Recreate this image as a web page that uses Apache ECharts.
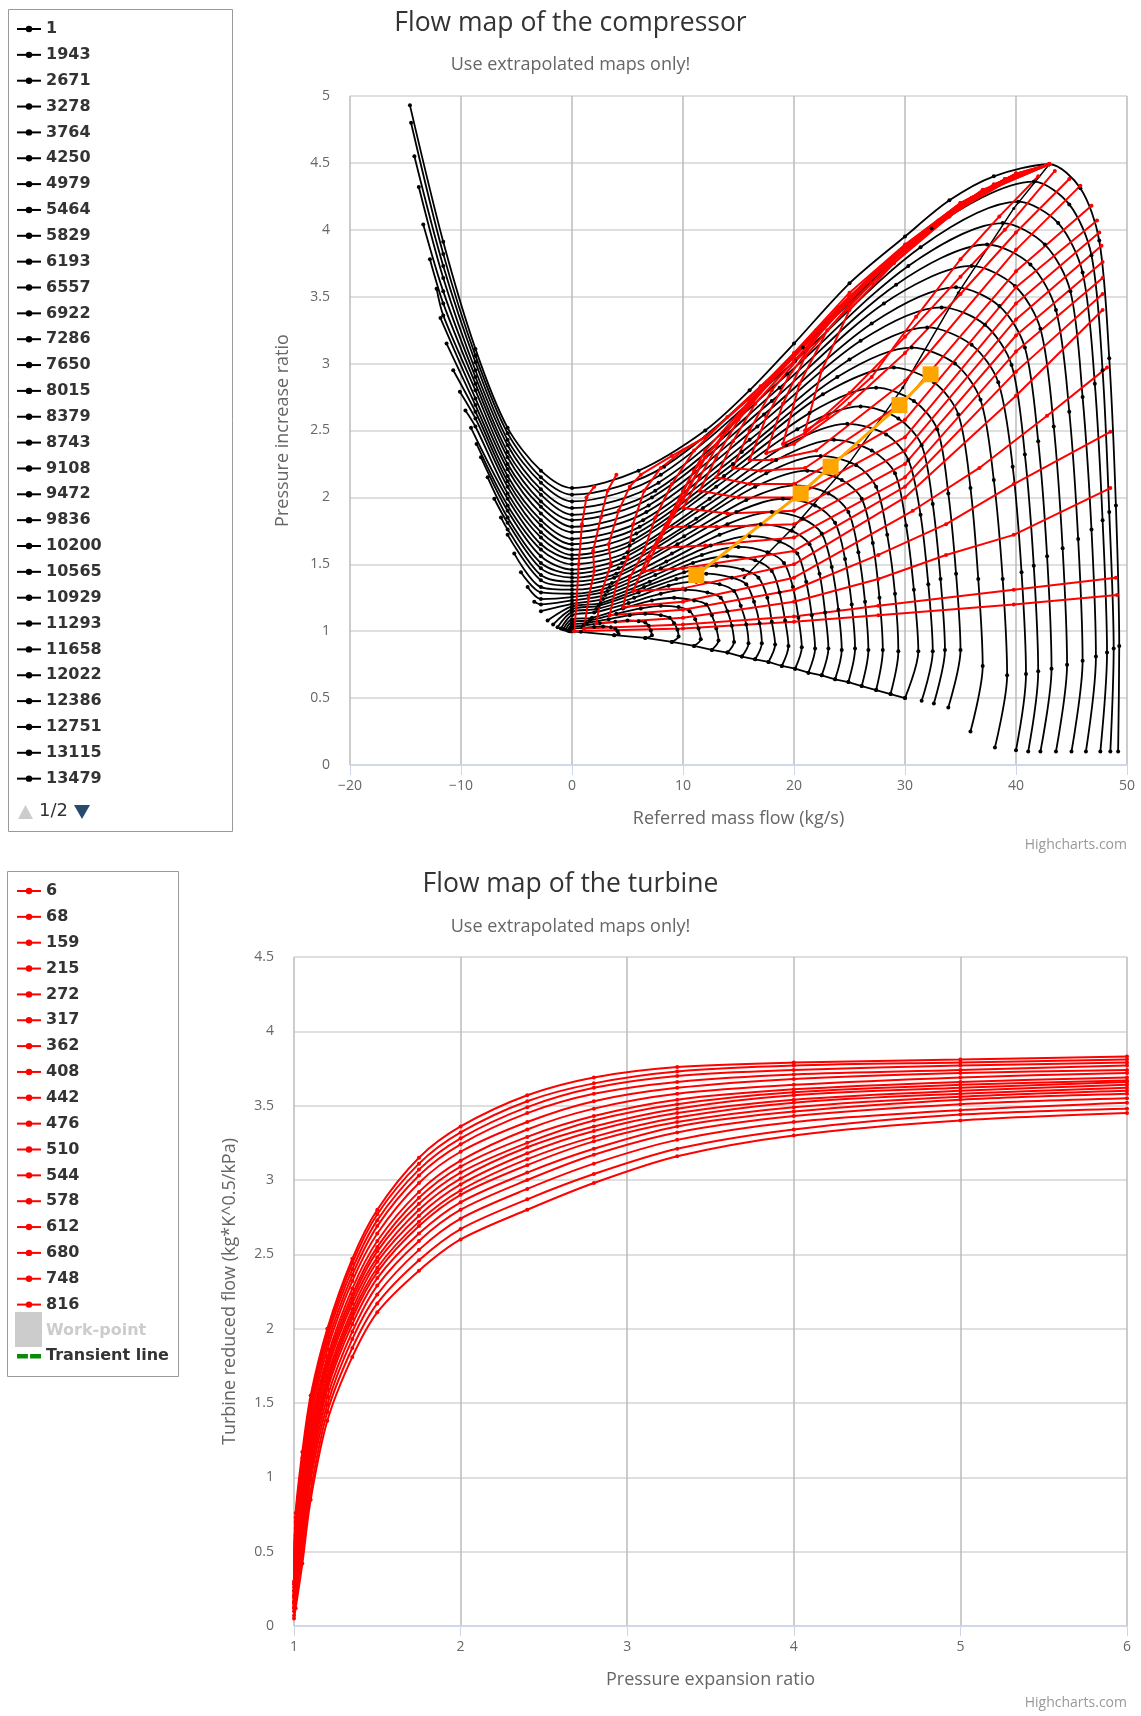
<!DOCTYPE html>
<html>
<head>
<meta charset="utf-8">
<script src="https://cdn.jsdelivr.net/npm/echarts@6/dist/echarts.min.js"></script>
<style>
body{margin:0;background:#fff}
#comp,#turb{width:1141px;height:858px}
</style>
</head>
<body>
<div id="comp"></div>
<div id="turb"></div>
<script>
// compressor speed lines, highest speed first
var speedNames = ['14937','14572','14208','13844','13479','13115','12751','12386','12022','11658','11293','10929','10565','10200','9836','9472','9108','8743','8379','8015','7650','7286','6922','6557','6193','5829','5464','4979','4250','3764','3278','2671','1943','1'];
var speedLines = [
 [[-14.6,4.93],[-11.6,3.91],[-8.7,3.11],[-5.8,2.52],[-2.8,2.2],[0,2.07],[6,2.2],[12,2.5],[16,2.8],[20,3.15],[25,3.6],[30,3.95],[34,4.22],[38,4.4],[43,4.49],[45.8,4.31],[47.5,3.92],[48.4,3.04],[49.0,1.94],[49.3,0.89],[49.2,0.1]],
 [[-14.5,4.8],[-11.6,3.82],[-8.7,3.06],[-5.8,2.48],[-2.8,2.15],[0,2.02],[8.3,2.23],[20.8,3.12],[32.4,4.01],[41.6,4.36],[44.8,4.19],[46.8,3.81],[47.8,2.95],[48.4,1.89],[48.8,0.87],[48.5,0.1]],
 [[-14.2,4.55],[-11.6,3.73],[-8.7,3.01],[-5.8,2.43],[-2.8,2.11],[0,1.97],[8.0,2.17],[20.1,3.02],[31.4,3.87],[40.2,4.21],[43.8,4.05],[46.0,3.68],[47.1,2.85],[47.8,1.83],[48.2,0.84],[47.6,0.1]],
 [[-13.8,4.32],[-11.6,3.64],[-8.7,2.95],[-5.8,2.39],[-2.8,2.06],[0,1.92],[7.8,2.11],[19.4,2.92],[30.3,3.73],[38.8,4.05],[42.6,3.89],[44.9,3.54],[46.0,2.75],[46.8,1.76],[47.2,0.81],[46.3,0.1]],
 [[-13.4,4.04],[-11.6,3.54],[-8.7,2.9],[-5.8,2.34],[-2.8,2.02],[0,1.87],[7.5,2.05],[18.7,2.82],[29.2,3.59],[37.4,3.89],[41.3,3.74],[43.6,3.4],[44.8,2.64],[45.6,1.69],[46.0,0.78],[45.0,0.1]],
 [[-12.8,3.78],[-11.6,3.45],[-8.7,2.85],[-5.8,2.3],[-2.8,1.97],[0,1.83],[7.2,2.0],[18.0,2.72],[28.1,3.45],[36.0,3.73],[39.9,3.58],[42.2,3.26],[43.4,2.53],[44.2,1.62],[44.6,0.75],[43.6,0.1]],
 [[-12.2,3.56],[-11.6,3.36],[-8.7,2.8],[-5.8,2.25],[-2.8,1.93],[0,1.78],[6.9,1.94],[17.3,2.62],[27.0,3.3],[34.6,3.57],[38.5,3.43],[40.8,3.12],[42.0,2.42],[42.8,1.56],[43.2,0.72],[42.2,0.1]],
 [[-11.85,3.34],[-8.7,2.74],[-5.8,2.21],[-2.8,1.88],[0,1.74],[6.7,1.89],[16.7,2.53],[26.0,3.17],[33.3,3.42],[37.2,3.29],[39.6,2.99],[40.8,2.32],[41.6,1.49],[42.0,0.7],[41.1,0.1]],
 [[-11.3,3.15],[-8.7,2.69],[-5.8,2.16],[-2.8,1.83],[0,1.69],[6.4,1.83],[16.0,2.43],[25.0,3.03],[32.0,3.27],[36.0,3.14],[38.4,2.86],[39.7,2.23],[40.5,1.44],[40.9,0.68],[40.0,0.11]],
 [[-10.7,2.95],[-8.7,2.64],[-5.8,2.12],[-2.8,1.79],[0,1.65],[6.1,1.78],[15.3,2.34],[23.9,2.9],[30.6,3.12],[34.5,3.0],[36.8,2.73],[38.0,2.13],[38.8,1.39],[39.2,0.67],[38.1,0.13]],
 [[-10.1,2.79],[-8.7,2.59],[-5.8,2.08],[-2.8,1.74],[0,1.61],[5.8,1.73],[14.5,2.25],[22.6,2.77],[29.0,2.97],[32.6,2.86],[34.8,2.62],[35.9,2.07],[36.6,1.39],[37.0,0.74],[35.9,0.25]],
 [[-9.6,2.65],[-8.7,2.53],[-5.8,2.03],[-2.8,1.7],[0,1.57],[5.5,1.68],[13.7,2.16],[21.4,2.63],[27.4,2.82],[30.8,2.72],[32.9,2.51],[33.9,2.03],[34.6,1.43],[35.0,0.86],[33.9,0.43]],
 [[-9.1,2.52],[-5.8,1.99],[-2.8,1.65],[0,1.54],[5.2,1.64],[13.0,2.08],[20.3,2.51],[26.0,2.68],[29.4,2.59],[31.5,2.39],[32.5,1.95],[33.2,1.39],[33.6,0.86],[32.6,0.46]],
 [[-8.6,2.4],[-5.8,1.94],[-2.8,1.61],[0,1.5],[5.0,1.59],[12.4,1.99],[19.3,2.39],[24.8,2.55],[28.3,2.47],[30.3,2.28],[31.4,1.87],[32.1,1.35],[32.5,0.85],[31.5,0.48]],
 [[-8.2,2.3],[-5.8,1.9],[-2.8,1.56],[0,1.46],[4.7,1.55],[11.8,1.92],[18.4,2.28],[23.6,2.43],[27.0,2.35],[29.1,2.18],[30.1,1.79],[30.8,1.31],[31.2,0.85],[30.0,0.5]],
 [[-7.6,2.15],[-5.8,1.85],[-2.8,1.51],[0,1.43],[4.5,1.51],[11.2,1.84],[17.5,2.18],[22.4,2.31],[25.6,2.24],[27.4,2.08],[28.4,1.72],[29.1,1.28],[29.4,0.85],[28.7,0.53]],
 [[-7.0,1.99],[-5.8,1.81],[-2.8,1.47],[0,1.4],[4.2,1.47],[10.6,1.78],[16.5,2.08],[21.2,2.2],[24.3,2.13],[26.1,1.99],[27.1,1.66],[27.7,1.25],[28.0,0.86],[27.4,0.56]],
 [[-6.4,1.85],[-5.8,1.76],[-2.8,1.42],[0,1.37],[4.0,1.43],[10.1,1.71],[15.7,1.98],[20.1,2.09],[23.1,2.03],[24.9,1.89],[25.8,1.59],[26.4,1.22],[26.7,0.86],[26.1,0.59]],
 [[-5.8,1.72],[-2.8,1.38],[0,1.34],[3.8,1.4],[9.5,1.65],[14.8,1.89],[19.0,1.99],[21.9,1.94],[23.7,1.81],[24.6,1.54],[25.2,1.2],[25.5,0.87],[24.9,0.62]],
 [[-5.2,1.58],[-2.8,1.33],[0,1.31],[3.6,1.36],[9.0,1.58],[14.0,1.8],[18.0,1.89],[20.8,1.84],[22.5,1.73],[23.4,1.48],[24.0,1.16],[24.3,0.86],[23.7,0.64]],
 [[-4.6,1.44],[-2.8,1.29],[0,1.28],[3.4,1.33],[8.5,1.52],[13.3,1.72],[17.0,1.8],[19.8,1.75],[21.4,1.65],[22.3,1.43],[22.8,1.14],[23.1,0.87],[22.5,0.67]],
 [[-4.0,1.33],[-2.8,1.24],[0,1.255],[3.2,1.3],[8.0,1.47],[12.5,1.64],[16.0,1.71],[18.7,1.67],[20.3,1.58],[21.1,1.37],[21.6,1.12],[21.9,0.87],[21.3,0.69]],
 [[-3.4,1.22],[-2.8,1.2],[0,1.23],[3.0,1.27],[7.5,1.42],[11.7,1.57],[15.0,1.63],[17.6,1.59],[19.1,1.51],[19.9,1.33],[20.4,1.1],[20.7,0.88],[20.1,0.72]],
 [[-2.8,1.15],[0,1.205],[2.8,1.24],[7.0,1.37],[10.9,1.51],[14.0,1.56],[16.5,1.53],[18.0,1.45],[18.7,1.29],[19.2,1.08],[19.5,0.89],[18.9,0.74]],
 [[-2.2,1.08],[0,1.185],[2.6,1.21],[6.5,1.33],[10.1,1.44],[13.0,1.49],[15.4,1.46],[16.8,1.4],[17.6,1.25],[18.0,1.07],[18.3,0.9],[17.7,0.77]],
 [[-1.7,1.05],[0,1.165],[2.4,1.19],[6.0,1.29],[9.4,1.39],[12.1,1.43],[14.4,1.4],[15.7,1.35],[16.4,1.22],[16.9,1.06],[17.1,0.91],[16.5,0.79]],
 [[-1.3,1.03],[0,1.145],[2.2,1.165],[5.6,1.25],[8.7,1.34],[11.2,1.37],[13.3,1.35],[14.6,1.3],[15.2,1.19],[15.7,1.05],[15.9,0.91],[15.3,0.81]],
 [[-1.0,1.02],[0,1.12],[2.0,1.14],[5.1,1.21],[8.0,1.28],[10.2,1.31],[12.2,1.29],[13.4,1.25],[14.0,1.15],[14.4,1.04],[14.6,0.92],[14.0,0.84]],
 [[-0.8,1.015],[0,1.09],[1.8,1.1],[4.6,1.17],[7.2,1.23],[9.2,1.25],[11.0,1.23],[12.1,1.2],[12.6,1.12],[13.0,1.02],[13.2,0.93],[12.6,0.86]],
 [[-0.6,1.01],[0,1.07],[1.6,1.08],[4.0,1.13],[6.2,1.17],[8.0,1.19],[9.6,1.18],[10.6,1.15],[11.1,1.09],[11.4,1.02],[11.6,0.94],[11.0,0.89]],
 [[-0.4,1.005],[0,1.05],[1.3,1.06],[3.3,1.09],[5.2,1.12],[6.6,1.13],[8.0,1.12],[8.8,1.1],[9.2,1.06],[9.5,1.01],[9.6,0.96],[9.0,0.92]],
 [[-0.3,1.003],[0,1.035],[1.0,1.04],[2.5,1.06],[3.9,1.07],[5.0,1.08],[6.0,1.075],[6.6,1.065],[6.9,1.04],[7.1,1.005],[7.2,0.97],[6.6,0.95]],
 [[-0.2,1.0],[0,1.018],[1.0,1.025],[2.0,1.032],[2.8,1.035],[3.5,1.03],[3.9,1.02],[4.1,1.0],[4.2,0.98],[3.8,0.97]],
 [[-0.1,1.0],[0,1.0],[0.8,0.995]]
];
var chokeLine = [[0,1.0],[3.8,0.97],[6.6,0.95],[9.0,0.92],[11.0,0.89],[12.6,0.86],[14.0,0.84],[15.3,0.81],[16.5,0.79],[17.7,0.77],[18.9,0.74],[20.1,0.72],[21.3,0.69],[22.5,0.67],[23.7,0.64],[24.9,0.62],[26.1,0.59],[27.4,0.56],[28.7,0.53],[30.0,0.5]];
var diagLine = [[43,4.49],[39.8,4.16],[34.8,3.53],[29.8,2.82],[25.0,2.26],[20.0,1.78],[15.5,1.4]];

// red lines drawn in the compressor map
var redNames = ['6','68','159','215','272','317','362','408','442','476','510','544','578','612','680','748','816'];
var redCompLines = [
 [[2.0,2.08],[1.3,2.0],[0.9,1.8],[0.6,1.5],[0.4,1.2],[0.2,1.0],[10,1.02],[20,1.07],[27.6,1.12],[39.8,1.2],[49.1,1.27]],
 [[4.0,2.17],[3.2,2.05],[2.6,1.85],[1.9,1.6],[2.0,1.45],[1.5,1.25],[1.1,1.02],[10,1.05],[20,1.11],[27.6,1.19],[39.8,1.31],[49.0,1.4]],
 [[12,2.45],[9,2.31],[6.2,2.17],[5.2,2.08],[4.2,1.9],[3.3,1.65],[3.5,1.5],[2.7,1.3],[2.2,1.06],[10,1.1],[20,1.22],[27.6,1.39],[33.7,1.57],[39.8,1.72],[48.5,2.07]],
 [[43,4.49],[40,4.42],[35,4.2],[30,3.89],[25,3.53],[20,3.08],[16,2.74],[12,2.45],[10.0,2.35],[8.0,2.22],[6.5,2.05],[5.5,1.8],[5.0,1.55],[4.0,1.35],[3.4,1.12],[10,1.16],[20,1.31],[27.6,1.57],[33.7,1.8],[39.8,2.1],[48.5,2.49]],
 [[43,4.49],[40,4.4],[35,4.18],[30,3.87],[25,3.5],[20,3.06],[17,2.83],[14,2.6],[11,2.35],[9.0,2.1],[7.5,1.85],[6.5,1.6],[5.2,1.4],[4.6,1.18],[10,1.22],[20,1.4],[30.7,1.9],[36.7,2.22],[42.8,2.61],[48.2,2.97]],
 [[24,3.4],[20,3.05],[16,2.72],[12,2.35],[10,2.05],[8.5,1.8],[6.8,1.55],[5.5,1.3],[10,1.32],[20,1.5],[30,2.0],[40,2.76],[47.8,3.4]],
 [[34,4.1],[30,3.85],[25,3.5],[20,3.05],[16,2.7],[12,2.3],[10,1.98],[8,1.7],[6.5,1.45],[10,1.47],[20,1.6],[30,2.08],[40,2.94],[47.8,3.52]],
 [[38,4.33],[35,4.17],[30,3.87],[24,3.42],[18,2.88],[14,2.5],[11,2.2],[9,1.88],[7.3,1.62],[12,1.64],[20,1.7],[30,2.15],[40,3.09],[47.8,3.64]],
 [[40,4.42],[35,4.2],[30,3.88],[25,3.5],[20,3.05],[15,2.6],[12,2.3],[10,2.0],[8.5,1.78],[13,1.78],[20,1.8],[30,2.25],[40,3.21],[47.8,3.76]],
 [[43,4.49],[40,4.42],[35,4.2],[30,3.88],[25,3.5],[20,3.06],[16,2.72],[13.5,2.45],[11.5,2.15],[10,1.92],[14,1.88],[20,1.9],[30,2.35],[40,3.33],[47.7,3.88]],
 [[43,4.49],[37,4.3],[32,4.0],[27,3.66],[22,3.25],[18,2.88],[15,2.58],[13,2.3],[11.5,2.05],[15,2.0],[20,2.0],[30,2.45],[40,3.45],[47.5,3.98]],
 [[43,4.49],[39,4.38],[35,4.18],[30,3.86],[25,3.48],[20,3.02],[16.5,2.7],[14.5,2.42],[13,2.15],[16,2.1],[20,2.1],[30,2.58],[40,3.57],[47.3,4.07]],
 [[43,4.49],[36,4.24],[31,3.93],[26,3.56],[21,3.1],[18,2.8],[16,2.5],[14.5,2.22],[17,2.2],[21,2.22],[30,2.72],[40,3.69],[46.8,4.18]],
 [[43,4.49],[38,4.34],[33,4.07],[28,3.72],[23,3.3],[19.5,2.9],[17.5,2.6],[16,2.28],[18,2.28],[22,2.35],[30,2.87],[40,3.85],[45.8,4.33]],
 [[43,4.49],[40,4.4],[35,4.16],[30,3.85],[25,3.44],[21,3.05],[19,2.7],[17.5,2.33],[20,2.4],[25,2.7],[30,3.08],[35,3.52],[40,3.98],[44.8,4.38]],
 [[43,4.49],[37,4.28],[32,3.98],[27,3.6],[23,3.25],[20.5,2.85],[19,2.4],[21,2.48],[25,2.78],[30,3.2],[35,3.65],[39,4.0],[43.5,4.44]],
 [[43,4.49],[39,4.38],[34,4.1],[29,3.75],[25,3.4],[22.5,2.95],[21,2.5],[23,2.6],[27,2.9],[31,3.35],[35,3.78],[38.5,4.1],[42,4.4]]
];
var workPoints = [[11.2,1.42],[20.6,2.03],[23.3,2.23],[29.5,2.69],[32.3,2.92]];

// turbine map: shared pressure ratios, one flow row per speed
var turbX = [1.0,1.01,1.05,1.1,1.2,1.35,1.5,1.75,2.0,2.4,2.8,3.3,4.0,5.0,6.0];
var turbY = [
 [0.30,0.76,1.17,1.55,2.00,2.47,2.80,3.15,3.36,3.57,3.69,3.76,3.79,3.81,3.83],
 [0.29,0.73,1.13,1.52,1.97,2.44,2.77,3.11,3.32,3.53,3.65,3.73,3.77,3.79,3.81],
 [0.28,0.70,1.10,1.48,1.94,2.40,2.73,3.07,3.28,3.49,3.62,3.70,3.74,3.77,3.79],
 [0.26,0.66,1.05,1.44,1.90,2.36,2.69,3.03,3.24,3.45,3.58,3.66,3.71,3.74,3.77],
 [0.24,0.61,1.00,1.39,1.86,2.32,2.64,2.98,3.19,3.39,3.53,3.62,3.68,3.72,3.74],
 [0.23,0.57,0.95,1.34,1.81,2.27,2.59,2.92,3.13,3.34,3.48,3.58,3.64,3.69,3.72],
 [0.21,0.53,0.90,1.30,1.78,2.23,2.55,2.88,3.09,3.29,3.43,3.54,3.61,3.66,3.69],
 [0.20,0.50,0.86,1.26,1.75,2.20,2.52,2.84,3.05,3.25,3.40,3.51,3.59,3.64,3.67],
 [0.19,0.47,0.83,1.23,1.72,2.17,2.48,2.80,3.01,3.22,3.36,3.48,3.57,3.62,3.66],
 [0.17,0.43,0.79,1.19,1.68,2.13,2.45,2.76,2.97,3.18,3.33,3.45,3.54,3.60,3.64],
 [0.16,0.40,0.75,1.16,1.65,2.10,2.41,2.72,2.93,3.14,3.29,3.42,3.52,3.58,3.62],
 [0.15,0.37,0.71,1.12,1.62,2.07,2.38,2.69,2.90,3.10,3.26,3.39,3.49,3.56,3.60],
 [0.13,0.33,0.67,1.08,1.59,2.03,2.34,2.64,2.85,3.05,3.21,3.36,3.46,3.54,3.58],
 [0.12,0.29,0.62,1.03,1.54,1.98,2.29,2.59,2.80,3.00,3.17,3.32,3.43,3.51,3.55],
 [0.10,0.24,0.56,0.98,1.49,1.93,2.23,2.53,2.74,2.94,3.11,3.27,3.39,3.47,3.52],
 [0.07,0.18,0.49,0.91,1.44,1.87,2.17,2.46,2.67,2.87,3.04,3.21,3.34,3.44,3.48],
 [0.05,0.12,0.42,0.85,1.38,1.81,2.11,2.39,2.60,2.80,2.98,3.16,3.30,3.40,3.45]
];

var FONT = 'Open Sans';
var gridX = {show:true, lineStyle:{color:'#bbbbbb', width:1.5}};
var gridY = {show:true, lineStyle:{color:'#d4d4d4', width:1.5}};

function xAxisOpt(min, max, step, name, fmt) {
  return {
    type:'value', min:min, max:max, interval:step,
    axisLine:{show:true, lineStyle:{color:'#ccd6eb', width:1.5}},
    axisTick:{show:true, length:10, lineStyle:{color:'#ccd6eb'}},
    splitLine:gridX,
    axisLabel:{color:'#666', fontSize:14, fontFamily:FONT, margin:14, formatter:fmt},
    name:name, nameLocation:'middle', nameGap:45,
    nameTextStyle:{color:'#666', fontSize:18, fontFamily:FONT}
  };
}
function yAxisOpt(min, max, step, name, gap) {
  return {
    type:'value', min:min, max:max, interval:step,
    axisLine:{show:false}, axisTick:{show:false},
    splitLine:gridY,
    axisLabel:{color:'#666', fontSize:14, fontFamily:FONT, margin:20},
    name:name, nameLocation:'middle', nameGap:gap, nameRotate:90,
    nameTextStyle:{color:'#666', fontSize:18, fontFamily:FONT}
  };
}
function titles(main, sub, top1, top2) {
  return [
    {text:main, left:'center', top:top1, textStyle:{color:'#333', fontSize:26.5, fontWeight:'normal', fontFamily:FONT}},
    {text:sub, left:'center', top:top2, textStyle:{color:'#666', fontSize:18, fontWeight:'normal', fontFamily:FONT}}
  ];
}
function boxAndCredits(box) {
  return [
    {type:'rect', z:-10, shape:box, style:{fill:'#fff', stroke:'#999', lineWidth:1}},
    {type:'text', right:14, bottom:6, style:{text:'Highcharts.com', fill:'#999', font:'14px ' + FONT}}
  ];
}
var legendText = {color:'#333', fontSize:16, fontWeight:'bold', fontFamily:'DejaVu Sans'};

// ---------- compressor ----------
var comp = echarts.init(document.getElementById('comp'));
var compSeries = [];
speedLines.forEach(function (line, i) {
  compSeries.push({
    name:speedNames[i], type:'line', data:line, smooth:0.3,
    symbol:'circle', symbolSize:4, color:'#000',
    lineStyle:{color:'#000', width:1.8}, itemStyle:{color:'#000'}
  });
});
compSeries.push({name:'Choke line', type:'line', data:chokeLine, symbol:'circle', symbolSize:4,
  color:'#000', lineStyle:{color:'#000', width:1.8}, itemStyle:{color:'#000'}});
compSeries.push({name:'Surge line', type:'line', data:diagLine, symbol:'circle', symbolSize:3,
  color:'#000', lineStyle:{color:'#000', width:1.5}, itemStyle:{color:'#000'}});
redCompLines.forEach(function (line, j) {
  compSeries.push({
    name:redNames[j], type:'line', data:line,
    symbol:'circle', symbolSize:4, color:'#ff0000',
    lineStyle:{color:'#ff0000', width:2}, itemStyle:{color:'#ff0000'}
  });
});
compSeries.push({name:'Work-point', type:'line', data:workPoints, symbol:'rect', symbolSize:16,
  color:'#ffa500', lineStyle:{color:'#ffa500', width:3}, itemStyle:{color:'#ffa500'}});

// first legend page: the 30 lowest speeds, the rest sit on page 2
var compLegendPage1 = speedNames.slice(4).reverse();

comp.setOption({
  animation:false,
  title:titles('Flow map of the compressor', 'Use extrapolated maps only!', 5, 51),
  graphic:boxAndCredits({x:8.5, y:9.5, width:224, height:822}).concat([
    {type:'polygon', shape:{points:[[18,819],[33,819],[25.5,805]]}, style:{fill:'#cccccc'}},
    {type:'text', left:39, top:802, style:{text:'1/2', fill:'#333', font:'18px DejaVu Sans'}},
    {type:'polygon', shape:{points:[[74,805],[90,805],[82,819]]}, style:{fill:'#274b6d'}}
  ]),
  legend:{
    orient:'vertical', left:16, top:21, padding:0, itemGap:9.85, itemWidth:24, itemHeight:8,
    textStyle:legendText, data:compLegendPage1
  },
  grid:{left:350, top:96, width:777, height:669},
  xAxis:xAxisOpt(-20, 50, 10, 'Referred mass flow (kg/s)', function (v) { return String(v).replace('-', '\u2212'); }),
  yAxis:yAxisOpt(0, 5, 0.5, 'Pressure increase ratio', 58),
  series:compSeries
});

// ---------- turbine ----------
var turb = echarts.init(document.getElementById('turb'));
var turbSeries = turbY.map(function (row, k) {
  return {
    name:redNames[k], type:'line', smooth:0.3,
    data:turbX.map(function (x, i) { return [x, row[i]]; }),
    symbol:'circle', symbolSize:4, color:'#ff0000',
    lineStyle:{color:'#ff0000', width:2}, itemStyle:{color:'#ff0000'}
  };
});
turbSeries.push({name:'Work-point', type:'scatter', data:[], symbol:'rect', color:'#ffa500', itemStyle:{color:'#ffa500'}});
turbSeries.push({name:'Transient line', type:'line', data:[], symbol:'none', color:'#0a8a0a',
  lineStyle:{color:'#0a8a0a', width:4}, itemStyle:{color:'#0a8a0a'}});

turb.setOption({
  animation:false,
  title:titles('Flow map of the turbine', 'Use extrapolated maps only!', 8, 55),
  graphic:boxAndCredits({x:7.5, y:13.5, width:171, height:505}).concat([
    {type:'rect', z:100, shape:{x:15, y:454, width:27, height:35}, style:{fill:'#cccccc'}}
  ]),
  legend:{
    orient:'vertical', left:16, top:25, padding:0, itemGap:9.85, itemWidth:24, itemHeight:8,
    textStyle:legendText, inactiveColor:'#cccccc',
    data:redNames.concat([
      {name:'Work-point', icon:'rect'},
      {name:'Transient line', icon:'path://M0,0H10V4H0ZM12,0H22V4H12Z', itemStyle:{color:'#0a8a0a'}}
    ]),
    selected:{'Work-point':false}
  },
  grid:{left:294, top:99, width:833, height:669},
  xAxis:xAxisOpt(1, 6, 1, 'Pressure expansion ratio'),
  yAxis:yAxisOpt(0, 4.5, 0.5, 'Turbine reduced flow (kg*K^0.5/kPa)', 55),
  series:turbSeries
});
</script>
</body>
</html>
